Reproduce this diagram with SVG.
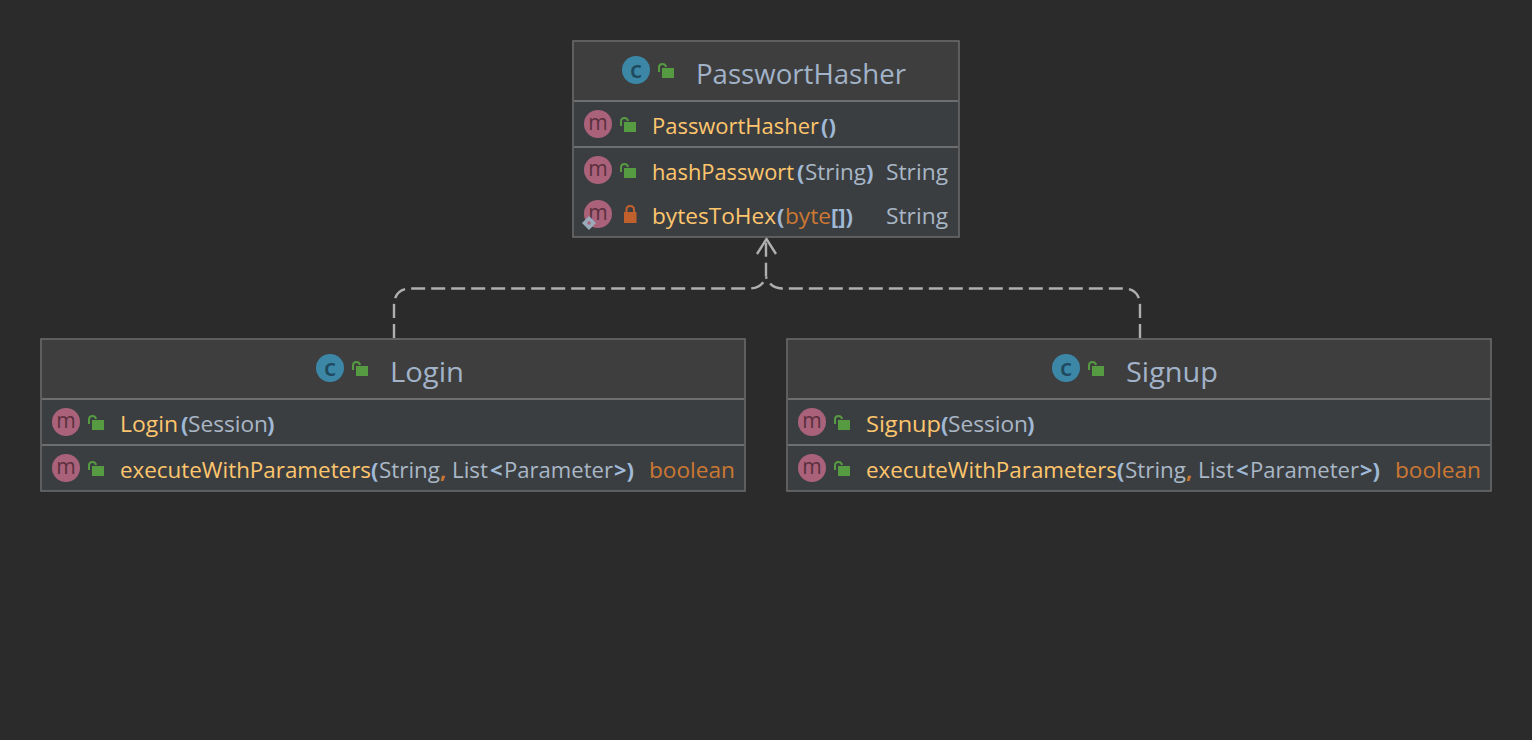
<svg xmlns="http://www.w3.org/2000/svg" width="1532" height="740" viewBox="0 0 1532 740">
<style>
text{font-family:"Open Sans","Noto Sans","Liberation Sans",sans-serif;font-size:22px;fill:#a9b7c6;white-space:pre}
.title{font-size:27px;fill:#a2b3c9}
.fn{fill:#ffc66d}
.kw{fill:#cc7832}
.p{fill:#9fb9d6;font-weight:700}
.k{fill:#cc7832;font-weight:700}
.box{fill:#3b3e41;stroke:#6a6a6a;stroke-width:1.600}
.head{fill:#3e3e3e}
.sep{stroke:#6e6e6e;stroke-width:2;fill:none}
.conn{fill:none;stroke:#afafaf;stroke-width:2.400}
.ml{font-size:21px;fill:#5b2f3d;text-anchor:middle}
.cl{font-size:24px;fill:#1f4a5e;text-anchor:middle;font-weight:600}
</style>
<defs>
<g id="ci"><circle r="14" fill="#3c87a6"/><text class="cl" y="7.500">c</text></g>
<g id="mi"><circle r="14" fill="#a9627a"/><text class="ml" y="6">m</text></g>
<g id="pub"><rect x="-2" y="2" width="12" height="10" fill="#569a42"/><path d="M-5 6V1.500Q-5 -2 -1.500 -2Q1.500 -2 2 1" fill="none" stroke="#569a42" stroke-width="2"/></g>
<g id="pri"><rect x="-6" y="-1" width="12.500" height="11" fill="#c0602c"/><path d="M-3.500 -1V-3.500Q-3.500 -7 0.200 -7Q4 -7 4 -3.500V-1" fill="none" stroke="#c0602c" stroke-width="2"/></g>
</defs>
<rect width="1532" height="740" fill="#2b2b2b"/>
<g id="connectors">
<path class="conn" stroke-dasharray="14 6" d="M394 338V306Q394 288.500 411 288.500H750Q762 288 766 277V239"/>
<path class="conn" stroke-dasharray="14 6" d="M1140 338V306Q1140 288.500 1123 288.500H782Q770 288 766 277"/>
<path class="conn" d="M757 254L766.500 239L776 254"/>
</g>
<g id="node-PasswortHasher">
<rect class="box" x="573" y="41" width="386" height="196"/>
<rect class="head" x="574" y="42" width="384" height="59"/>
<path class="sep" d="M574 101H958M574 147H958"/>
<use href="#ci" x="636" y="70"/><use href="#pub" x="664" y="66"/>
<text class="title" x="696" y="84" textLength="210" lengthAdjust="spacingAndGlyphs">PasswortHasher</text>
<use href="#mi" x="598" y="124"/><use href="#pub" x="626" y="120"/>
<text x="652" y="134"><tspan class="fn" textLength="167" lengthAdjust="spacingAndGlyphs">PasswortHasher</tspan><tspan class="p" x="821">()</tspan></text>
<use href="#mi" x="598" y="170"/><use href="#pub" x="626" y="166"/>
<text x="652" y="180"><tspan class="fn" textLength="142" lengthAdjust="spacingAndGlyphs">hashPasswort</tspan><tspan class="p" x="797">(</tspan><tspan x="805" textLength="61" lengthAdjust="spacingAndGlyphs">String</tspan><tspan class="p" x="866">)</tspan></text>
<text x="886" y="180" textLength="62" lengthAdjust="spacingAndGlyphs">String</text>
<use href="#mi" x="598" y="214"/><use href="#pri" x="630" y="213"/>
<path d="M589 216L596 223L589 230L582 223Z" fill="#9aabbb"/><circle cx="589" cy="223" r="1.800" fill="#a9627a"/>
<text x="652" y="224"><tspan class="fn" textLength="124" lengthAdjust="spacingAndGlyphs">bytesToHex</tspan><tspan class="p" x="777">(</tspan><tspan class="kw" x="785" textLength="46" lengthAdjust="spacingAndGlyphs">byte</tspan><tspan class="p" x="831">[])</tspan></text>
<text x="886" y="224" textLength="62" lengthAdjust="spacingAndGlyphs">String</text>
</g>
<g id="node-Login">
<rect class="box" x="41" y="339" width="704" height="152"/>
<rect class="head" x="42" y="340" width="702" height="59"/>
<path class="sep" d="M42 399H744M42 445H744"/>
<use href="#ci" x="330" y="368"/><use href="#pub" x="358" y="364"/>
<text class="title" x="390" y="382" textLength="74" lengthAdjust="spacingAndGlyphs">Login</text>
<use href="#mi" x="66" y="422"/><use href="#pub" x="94" y="418"/>
<text x="120" y="432"><tspan class="fn" textLength="58" lengthAdjust="spacingAndGlyphs">Login</tspan><tspan class="p" x="181">(</tspan><tspan x="188" textLength="80" lengthAdjust="spacingAndGlyphs">Session</tspan><tspan class="p" x="267">)</tspan></text>
<use href="#mi" x="66" y="468"/><use href="#pub" x="94" y="464"/>
<text x="120" y="478"><tspan class="fn" textLength="251" lengthAdjust="spacingAndGlyphs">executeWithParameters</tspan><tspan class="p" x="371">(</tspan><tspan x="379" textLength="61" lengthAdjust="spacingAndGlyphs">String</tspan><tspan class="k" x="440">,</tspan><tspan x="452" textLength="36" lengthAdjust="spacingAndGlyphs">List</tspan><tspan class="p" x="490">&lt;</tspan><tspan x="504" textLength="109" lengthAdjust="spacingAndGlyphs">Parameter</tspan><tspan class="p" x="614">&gt;)</tspan></text>
<text class="kw" x="649" y="478" textLength="86" lengthAdjust="spacingAndGlyphs">boolean</text>
</g>
<g id="node-Signup">
<rect class="box" x="787" y="339" width="704" height="152"/>
<rect class="head" x="788" y="340" width="702" height="59"/>
<path class="sep" d="M788 399H1490M788 445H1490"/>
<use href="#ci" x="1066" y="368"/><use href="#pub" x="1094" y="364"/>
<text class="title" x="1126" y="382" textLength="92" lengthAdjust="spacingAndGlyphs">Signup</text>
<use href="#mi" x="812" y="422"/><use href="#pub" x="840" y="418"/>
<text x="866" y="432"><tspan class="fn" textLength="75" lengthAdjust="spacingAndGlyphs">Signup</tspan><tspan class="p" x="941">(</tspan><tspan x="948" textLength="80" lengthAdjust="spacingAndGlyphs">Session</tspan><tspan class="p" x="1027">)</tspan></text>
<use href="#mi" x="812" y="468"/><use href="#pub" x="840" y="464"/>
<text x="866" y="478"><tspan class="fn" textLength="251" lengthAdjust="spacingAndGlyphs">executeWithParameters</tspan><tspan class="p" x="1117">(</tspan><tspan x="1125" textLength="61" lengthAdjust="spacingAndGlyphs">String</tspan><tspan class="k" x="1186">,</tspan><tspan x="1198" textLength="36" lengthAdjust="spacingAndGlyphs">List</tspan><tspan class="p" x="1236">&lt;</tspan><tspan x="1250" textLength="109" lengthAdjust="spacingAndGlyphs">Parameter</tspan><tspan class="p" x="1360">&gt;)</tspan></text>
<text class="kw" x="1395" y="478" textLength="86" lengthAdjust="spacingAndGlyphs">boolean</text>
</g>
</svg>
